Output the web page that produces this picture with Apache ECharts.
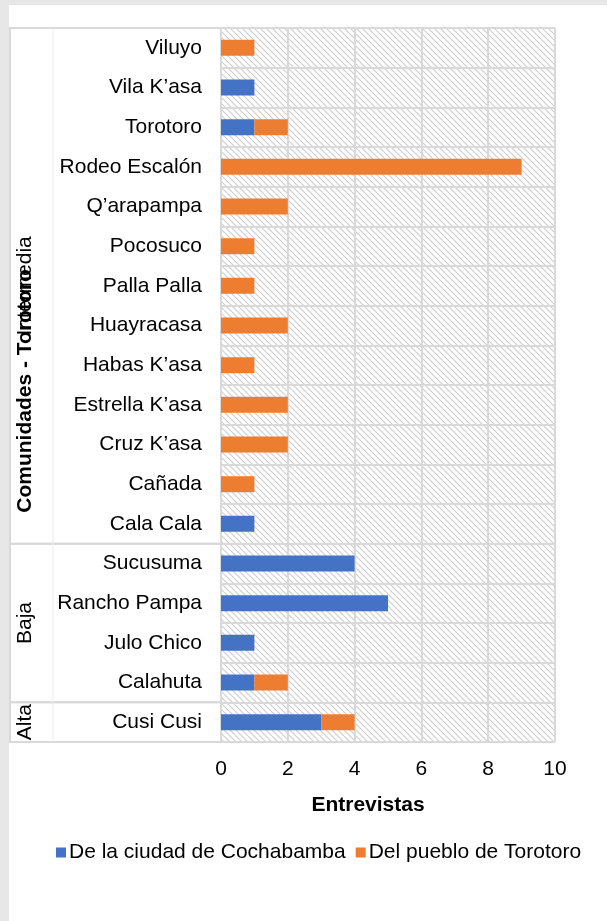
<!DOCTYPE html>
<html>
<head>
<meta charset="utf-8">
<script src="https://cdn.jsdelivr.net/npm/echarts@6/dist/echarts.min.js"></script>
<style>
  html, body { margin: 0; padding: 0; background: #e7e7e7; }
  #chart { position: absolute; left: 9px; top: 5px; width: 598px; height: 916px; background: #fff; }
</style>
</head>
<body>
<div id="chart"></div>
<script>
// categories from bottom to top
var comunidades = ['Cusi Cusi', 'Calahuta', 'Julo Chico', 'Rancho Pampa', 'Sucusuma',
    'Cala Cala', 'Cañada', 'Cruz K\u2019asa', 'Estrella K\u2019asa', 'Habas K\u2019asa',
    'Huayracasa', 'Palla Palla', 'Pocosuco', 'Q\u2019arapampa', 'Rodeo Escalón',
    'Torotoro', 'Vila K\u2019asa', 'Viluyo'];
var deCochabamba = [3, 1, 1, 5, 4, 1, 0, 0, 0, 0, 0, 0, 0, 0, 0, 1, 1, 0];
var deTorotoro = [1, 1, 0, 0, 0, 0, 1, 2, 2, 1, 2, 1, 1, 2, 9, 1, 0, 1];
// zone groups: name, first index, last index
var zonas = [['Alta', 0, 0], ['Baja', 1, 4], ['Intermedia', 5, 17]];
var xTicks = [0, 2, 4, 6, 8, 10];

var font = 'Arial, "Liberation Sans", sans-serif';
var gridLine = '#d9d9d9';

// hatched background for the plot area
function hatch() {
    var c = document.createElement('canvas');
    c.width = 6; c.height = 6;
    var g = c.getContext('2d');
    g.fillStyle = '#fff';
    g.fillRect(0, 0, 6, 6);
    g.strokeStyle = '#cfcfcf';
    g.lineWidth = 1.2;
    g.beginPath();
    g.moveTo(-1, -1); g.lineTo(7, 7);
    g.moveTo(-1, 5); g.lineTo(1, 7);
    g.moveTo(5, -1); g.lineTo(7, 1);
    g.stroke();
    return c;
}

var chart = echarts.init(document.getElementById('chart'));

var option = {
    animation: false,
    textStyle: { fontFamily: font },
    grid: {
        left: 212, top: 23, width: 334, height: 714,
        show: true, borderWidth: 0,
        backgroundColor: { image: hatch(), repeat: 'repeat' }
    },
    legend: {
        left: 42, top: 832,
        itemWidth: 10, itemHeight: 10, itemGap: 10,
        icon: 'rect',
        textStyle: { fontSize: 21, color: '#000', fontFamily: font, padding: [0, 0, 0, -2] },
        data: ['De la ciudad de Cochabamba', 'Del pueblo de Torotoro']
    },
    xAxis: {
        type: 'value', min: xTicks[0], max: xTicks[xTicks.length - 1], interval: 2,
        axisLine: { show: false }, axisTick: { show: false },
        axisLabel: { fontSize: 21, color: '#000', margin: 17 },
        splitLine: { show: true, lineStyle: { color: gridLine, width: 2 } }
    },
    yAxis: {
        type: 'category', data: comunidades,
        axisLine: { show: false }, axisTick: { show: false },
        axisLabel: { fontSize: 21, color: '#000', margin: 19 },
        splitLine: { show: true, interval: 0, lineStyle: { color: gridLine, width: 2 } }
    },
    series: [
        { name: 'De la ciudad de Cochabamba', type: 'bar', stack: 'total', barWidth: 16,
          itemStyle: { color: '#4472C4' }, data: deCochabamba },
        { name: 'Del pueblo de Torotoro', type: 'bar', stack: 'total', barWidth: 16,
          itemStyle: { color: '#ED7D31' }, data: deTorotoro }
    ]
};
chart.setOption(option);

// group frame and labels in the category column, placed from the axis scale
var y0 = chart.convertToPixel({ yAxisIndex: 0 }, 0);
var y1 = chart.convertToPixel({ yAxisIndex: 0 }, 1);
var band = Math.abs(y0 - y1);
function rowTop(i) { return chart.convertToPixel({ yAxisIndex: 0 }, i) - band / 2; }
function rowBottom(i) { return chart.convertToPixel({ yAxisIndex: 0 }, i) + band / 2; }
var plotLeft = chart.convertToPixel({ xAxisIndex: 0 }, 0);
var plotRight = chart.convertToPixel({ xAxisIndex: 0 }, 10);
var plotTop = rowTop(comunidades.length - 1);
var plotBottom = rowBottom(0);

var graphics = [];
function hline(y, x1, x2) {
    graphics.push({ type: 'line', silent: true,
        shape: { x1: x1, y1: y, x2: x2, y2: y },
        style: { stroke: gridLine, lineWidth: 2 } });
}
zonas.forEach(function (z) {
    hline(rowBottom(z[1]), 0, plotLeft);
    hline(rowTop(z[2]), 0, plotLeft);
    graphics.push({ type: 'text', silent: true, rotation: Math.PI / 2,
        x: 16, y: (rowBottom(z[1]) + rowTop(z[2])) / 2,
        style: { text: z[0], font: '21px ' + font, fill: '#000',
                 align: 'center', verticalAlign: 'middle' } });
});
graphics.push({ type: 'line', silent: true,
    shape: { x1: 44, y1: plotTop, x2: 44, y2: plotBottom },
    style: { stroke: '#ececec', lineWidth: 1 } });
graphics.push({ type: 'line', silent: true,
    shape: { x1: 1, y1: plotTop, x2: 1, y2: plotBottom },
    style: { stroke: gridLine, lineWidth: 2 } });
graphics.push({ type: 'line', silent: true,
    shape: { x1: 0, y1: plotTop, x2: plotRight, y2: plotTop },
    style: { stroke: gridLine, lineWidth: 2 } });
// axis titles
graphics.push({ type: 'text', silent: true, rotation: Math.PI / 2,
    x: 16, y: (plotTop + plotBottom) / 2 + 6,
    style: { text: 'Comunidades - Torotoro', font: 'bold 21px ' + font, fill: '#000',
             align: 'center', verticalAlign: 'middle' } });
graphics.push({ type: 'text', silent: true,
    x: 359, y: 800,
    style: { text: 'Entrevistas', font: 'bold 21px ' + font, fill: '#000',
             align: 'center', verticalAlign: 'middle' } });

chart.setOption({ graphic: graphics });
</script>
</body>
</html>
